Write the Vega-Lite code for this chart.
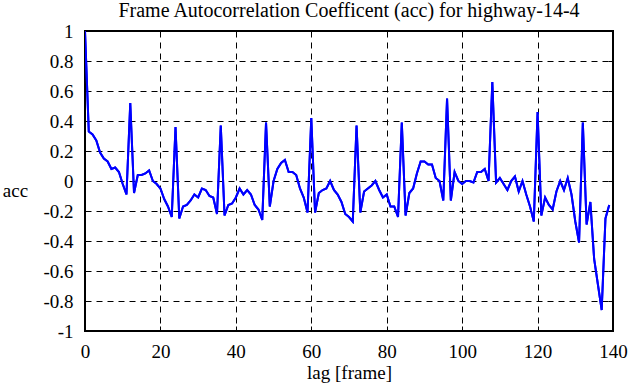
{
  "$schema": "https://vega.github.io/schema/vega-lite/v6.json",
  "autosize": "none",
  "width": 528,
  "height": 300,
  "padding": {"left": 85, "top": 31, "right": 22, "bottom": 56},
  "background": "white",
  "title": {
    "text": "Frame Autocorrelation Coefficent (acc) for highway-14-4",
    "font": "Liberation Serif",
    "fontSize": 20,
    "fontWeight": "normal",
    "color": "black",
    "anchor": "middle",
    "baseline": "bottom",
    "offset": -19
  },
  "config": {
    "view": {"stroke": "black", "strokeWidth": 2},
    "axis": {
      "labelFont": "Liberation Serif, Times New Roman, serif",
      "titleFont": "Liberation Serif",
      "labelFontSize": 19,
      "titleFontSize": 19,
      "titleFontWeight": "normal",
      "labelFontWeight": "normal",
      "labelColor": "black",
      "titleColor": "black",
      "domain": false,
      "tickColor": "black",
      "tickWidth": 1,
      "tickSize": -5,
      "gridColor": "black",
      "gridOpacity": 1,
      "gridDash": [6, 5],
      "gridWidth": 1
    }
  },
  "data": {
    "values": [
      {"lag": 0, "acc": 1.0}, {"lag": 1, "acc": 0.33}, {"lag": 2, "acc": 0.31}, {"lag": 3, "acc": 0.27},
      {"lag": 4, "acc": 0.19}, {"lag": 5, "acc": 0.15}, {"lag": 6, "acc": 0.13}, {"lag": 7, "acc": 0.08},
      {"lag": 8, "acc": 0.09}, {"lag": 9, "acc": 0.06}, {"lag": 10, "acc": -0.02}, {"lag": 11, "acc": -0.09},
      {"lag": 12, "acc": 0.52}, {"lag": 13, "acc": -0.08}, {"lag": 14, "acc": 0.04}, {"lag": 15, "acc": 0.04},
      {"lag": 16, "acc": 0.05}, {"lag": 17, "acc": 0.07}, {"lag": 18, "acc": 0.0}, {"lag": 19, "acc": -0.02},
      {"lag": 20, "acc": -0.05}, {"lag": 21, "acc": -0.12}, {"lag": 22, "acc": -0.17}, {"lag": 23, "acc": -0.24},
      {"lag": 24, "acc": 0.36}, {"lag": 25, "acc": -0.25}, {"lag": 26, "acc": -0.17}, {"lag": 27, "acc": -0.16},
      {"lag": 28, "acc": -0.13}, {"lag": 29, "acc": -0.09}, {"lag": 30, "acc": -0.11}, {"lag": 31, "acc": -0.05},
      {"lag": 32, "acc": -0.06}, {"lag": 33, "acc": -0.1}, {"lag": 34, "acc": -0.11}, {"lag": 35, "acc": -0.22},
      {"lag": 36, "acc": 0.37}, {"lag": 37, "acc": -0.23}, {"lag": 38, "acc": -0.16}, {"lag": 39, "acc": -0.15},
      {"lag": 40, "acc": -0.11}, {"lag": 41, "acc": -0.05}, {"lag": 42, "acc": -0.09}, {"lag": 43, "acc": -0.06},
      {"lag": 44, "acc": -0.09}, {"lag": 45, "acc": -0.16}, {"lag": 46, "acc": -0.19}, {"lag": 47, "acc": -0.26},
      {"lag": 48, "acc": 0.39}, {"lag": 49, "acc": -0.17}, {"lag": 50, "acc": 0.0}, {"lag": 51, "acc": 0.08},
      {"lag": 52, "acc": 0.12}, {"lag": 53, "acc": 0.14}, {"lag": 54, "acc": 0.06}, {"lag": 55, "acc": 0.06},
      {"lag": 56, "acc": 0.04}, {"lag": 57, "acc": -0.05}, {"lag": 58, "acc": -0.11}, {"lag": 59, "acc": -0.21},
      {"lag": 60, "acc": 0.42}, {"lag": 61, "acc": -0.21}, {"lag": 62, "acc": -0.08}, {"lag": 63, "acc": -0.06},
      {"lag": 64, "acc": -0.05}, {"lag": 65, "acc": 0.0}, {"lag": 66, "acc": -0.06}, {"lag": 67, "acc": -0.09},
      {"lag": 68, "acc": -0.14}, {"lag": 69, "acc": -0.22}, {"lag": 70, "acc": -0.24}, {"lag": 71, "acc": -0.27},
      {"lag": 72, "acc": 0.37}, {"lag": 73, "acc": -0.21}, {"lag": 74, "acc": -0.07}, {"lag": 75, "acc": -0.05},
      {"lag": 76, "acc": -0.03}, {"lag": 77, "acc": 0.0}, {"lag": 78, "acc": -0.06}, {"lag": 79, "acc": -0.11},
      {"lag": 80, "acc": -0.09}, {"lag": 81, "acc": -0.17}, {"lag": 82, "acc": -0.17}, {"lag": 83, "acc": -0.24},
      {"lag": 84, "acc": 0.39}, {"lag": 85, "acc": -0.23}, {"lag": 86, "acc": -0.08}, {"lag": 87, "acc": -0.05},
      {"lag": 88, "acc": 0.05}, {"lag": 89, "acc": 0.13}, {"lag": 90, "acc": 0.13}, {"lag": 91, "acc": 0.11},
      {"lag": 92, "acc": 0.11}, {"lag": 93, "acc": 0.02}, {"lag": 94, "acc": 0.0}, {"lag": 95, "acc": -0.13},
      {"lag": 96, "acc": 0.55}, {"lag": 97, "acc": -0.13}, {"lag": 98, "acc": 0.06}, {"lag": 99, "acc": 0.0},
      {"lag": 100, "acc": -0.02}, {"lag": 101, "acc": 0.0}, {"lag": 102, "acc": 0.0}, {"lag": 103, "acc": -0.01},
      {"lag": 104, "acc": 0.06}, {"lag": 105, "acc": 0.06}, {"lag": 106, "acc": 0.08}, {"lag": 107, "acc": 0.0},
      {"lag": 108, "acc": 0.66}, {"lag": 109, "acc": -0.01}, {"lag": 110, "acc": 0.02}, {"lag": 111, "acc": -0.02},
      {"lag": 112, "acc": -0.06}, {"lag": 113, "acc": 0.0}, {"lag": 114, "acc": 0.03}, {"lag": 115, "acc": -0.07},
      {"lag": 116, "acc": 0.0}, {"lag": 117, "acc": -0.09}, {"lag": 118, "acc": -0.17}, {"lag": 119, "acc": -0.27},
      {"lag": 120, "acc": 0.46}, {"lag": 121, "acc": -0.23}, {"lag": 122, "acc": -0.11}, {"lag": 123, "acc": -0.16},
      {"lag": 124, "acc": -0.19}, {"lag": 125, "acc": -0.07}, {"lag": 126, "acc": 0.0}, {"lag": 127, "acc": -0.06},
      {"lag": 128, "acc": 0.02}, {"lag": 129, "acc": -0.09}, {"lag": 130, "acc": -0.27}, {"lag": 131, "acc": -0.41},
      {"lag": 132, "acc": 0.39}, {"lag": 133, "acc": -0.29}, {"lag": 134, "acc": -0.14}, {"lag": 135, "acc": -0.52},
      {"lag": 136, "acc": -0.69}, {"lag": 137, "acc": -0.86}, {"lag": 138, "acc": -0.25}, {"lag": 139, "acc": -0.16}
    ]
  },
  "layer": [
    {
      "mark": {"type": "line", "color": "#0000ff", "strokeWidth": 2, "clip": true},
      "encoding": {
        "x": {
          "field": "lag", "type": "quantitative",
          "scale": {"domain": [0, 140], "nice": false, "zero": false},
          "axis": {
            "orient": "bottom",
            "title": "lag [frame]",
            "values": [0, 20, 40, 60, 80, 100, 120, 140],
            "format": "d",
            "labelFont": "Liberation Serif, Times New Roman, serif",
            "titleFont": "Liberation Serif",
            "labelPadding": 16,
            "labelBaseline": "top",
            "titlePadding": 2,
            "labelFlush": false,
            "labelOverlap": false
          }
        },
        "y": {
          "field": "acc", "type": "quantitative",
          "scale": {"domain": [-1, 1], "nice": false, "zero": false},
          "axis": {
            "orient": "left",
            "title": "acc",
            "values": [-1, -0.8, -0.6, -0.4, -0.2, 0, 0.2, 0.4, 0.6, 0.8, 1],
            "format": "~r",
            "labelExpr": "replace(datum.label, '\u2212', '-')",
            "labelFont": "Liberation Serif, Times New Roman, serif",
            "titleFont": "Liberation Serif",
            "labelPadding": 17,
            "labelBaseline": "middle",
            "labelFlush": false,
            "labelOverlap": false,
            "titleAngle": 0,
            "titleAlign": "center",
            "titleBaseline": "middle",
            "titleX": -70,
            "titleY": 159
          }
        }
      }
    },
    {
      "mark": {"type": "line", "color": "#0000ff", "strokeWidth": 2, "clip": true},
      "encoding": {
        "x": {
          "field": "lag", "type": "quantitative",
          "axis": {
            "orient": "top", "title": null, "labels": false, "grid": false,
            "values": [0, 20, 40, 60, 80, 100, 120, 140]
          }
        },
        "y": {
          "field": "acc", "type": "quantitative",
          "axis": {
            "orient": "right", "title": null, "labels": false, "grid": false,
            "values": [-1, -0.8, -0.6, -0.4, -0.2, 0, 0.2, 0.4, 0.6, 0.8, 1]
          }
        }
      }
    }
  ],
  "resolve": {"axis": {"x": "independent", "y": "independent"}}
}
